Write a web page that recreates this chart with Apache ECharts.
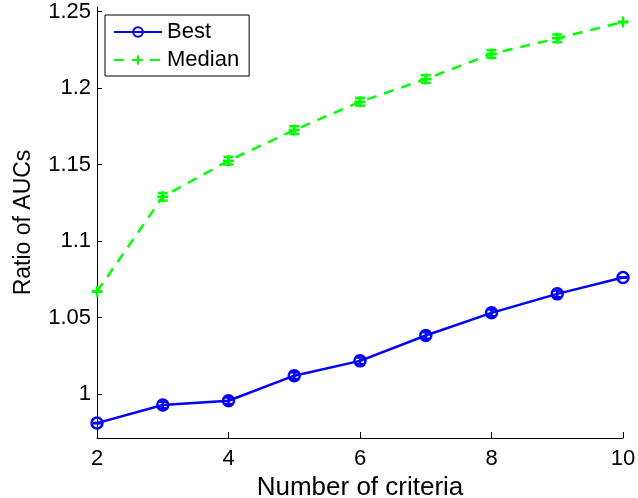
<!DOCTYPE html>
<html>
<head>
<meta charset="utf-8">
<script src="https://cdn.jsdelivr.net/npm/echarts@6/dist/echarts.min.js"></script>
<style>
  html, body { margin: 0; padding: 0; background: #fff; }
  #chart { width: 638px; height: 498px; }
</style>
</head>
<body>
<div id="chart"></div>
<script>
// Number of criteria on the x axis
const criteria = [2, 3, 4, 5, 6, 7, 8, 9, 10];
// Ratio of AUCs for the best and the median selection, with error half-widths
const bestValues = [0.981, 0.9928, 0.9956, 1.012, 1.0217, 1.0383, 1.0531, 1.0655, 1.0762];
const bestErrors = [0, 0.0022, 0.0022, 0.0022, 0.0022, 0.0022, 0.0022, 0.0022, 0];
const medianValues = [1.067, 1.129, 1.1526, 1.1726, 1.1911, 1.206, 1.2224, 1.2326, 1.2433];
const medianErrors = [0, 0.0025, 0.0025, 0.0025, 0.0025, 0.0025, 0.0025, 0.0025, 0];
// Tick positions
const yTicks = [1, 1.05, 1.1, 1.15, 1.2, 1.25];
const xTicks = [2, 4, 6, 8, 10];

const FONT = "'Liberation Sans', Arial, Helvetica, sans-serif";
const BLUE = '#0000ff';
const GREEN = '#00ff00';

function errorBars(color, cap) {
  return function (params, api) {
    const x = api.value(0), y = api.value(1), e = api.value(2);
    const hi = api.coord([x, y + e]);
    const lo = api.coord([x, y - e]);
    const style = { stroke: color, lineWidth: 2.5 };
    return {
      type: 'group',
      children: [
        { type: 'line', shape: { x1: hi[0], y1: hi[1], x2: lo[0], y2: lo[1] }, style },
        { type: 'line', shape: { x1: hi[0] - cap, y1: hi[1], x2: hi[0] + cap, y2: hi[1] }, style },
        { type: 'line', shape: { x1: lo[0] - cap, y1: lo[1], x2: lo[0] + cap, y2: lo[1] }, style }
      ]
    };
  };
}

const chart = echarts.init(document.getElementById('chart'), null, { renderer: 'canvas' });
chart.setOption({
  animation: false,
  backgroundColor: '#ffffff',
  textStyle: { fontFamily: FONT, color: '#000' },
  grid: { left: 97, right: 15, top: 7, bottom: 60, containLabel: false, outerBoundsMode: 'none' },
  legend: {
    data: ['Best', 'Median'],
    orient: 'vertical',
    left: 105,
    top: 15,
    padding: [5, 10, 4, 8],
    itemGap: 4,
    itemWidth: 48,
    itemHeight: 12,
    itemTextGap: 8,
    backgroundColor: '#ffffff',
    borderColor: '#000',
    borderWidth: 1,
    borderRadius: 0,
    textStyle: { fontFamily: FONT, fontSize: 22, color: '#000', lineHeight: 24 }
  },
  xAxis: {
    type: 'value',
    min: 2,
    max: 10,
    interval: 2,
    name: 'Number of criteria',
    nameLocation: 'middle',
    nameGap: 31,
    nameTextStyle: { fontFamily: FONT, fontSize: 26, color: '#000' },
    axisLine: { show: true, onZero: false, lineStyle: { color: '#000', width: 1 } },
    axisTick: { show: true, inside: true, length: 6, lineStyle: { color: '#000' }, customValues: xTicks },
    axisLabel: { fontFamily: FONT, fontSize: 22, color: '#000', margin: 10, customValues: xTicks },
    splitLine: { show: false }
  },
  yAxis: {
    type: 'value',
    min: 0.97125,
    max: 1.2531,
    name: 'Ratio of AUCs',
    nameLocation: 'middle',
    nameGap: 62,
    nameTextStyle: { fontFamily: FONT, fontSize: 23, color: '#000' },
    axisLine: { show: true, onZero: false, lineStyle: { color: '#000', width: 1 } },
    axisTick: { show: true, inside: true, length: 5, lineStyle: { color: '#000' }, customValues: yTicks },
    axisLabel: { fontFamily: FONT, fontSize: 22, color: '#000', margin: 6, customValues: yTicks,
      formatter: v => String(Math.round(v * 100) / 100) },
    splitLine: { show: false }
  },
  series: [
    {
      name: 'Best',
      type: 'line',
      data: criteria.map((x, i) => [x, bestValues[i]]),
      symbol: 'circle',
      symbolSize: 11,
      showAllSymbol: true,
      lineStyle: { color: BLUE, width: 2.5 },
      itemStyle: { color: 'rgba(255,255,255,0)', borderColor: BLUE, borderWidth: 2.5 },
      z: 3
    },
    {
      name: 'Best error',
      type: 'custom',
      data: criteria.map((x, i) => [x, bestValues[i], bestErrors[i]]),
      renderItem: errorBars(BLUE, 4),
      z: 4
    },
    {
      name: 'Median',
      type: 'line',
      data: criteria.map((x, i) => [x, medianValues[i]]),
      symbol: 'path://M5 0 L5 10 M0 5 L10 5',
      symbolSize: 11,
      showAllSymbol: true,
      lineStyle: { color: GREEN, width: 2.5, type: [10, 8] },
      itemStyle: { color: 'rgba(255,255,255,0)', borderColor: GREEN, borderWidth: 2.5 },
      z: 3
    },
    {
      name: 'Median error',
      type: 'custom',
      data: criteria.map((x, i) => [x, medianValues[i], medianErrors[i]]),
      renderItem: errorBars(GREEN, 5),
      z: 4
    }
  ]
});
</script>
</body>
</html>
